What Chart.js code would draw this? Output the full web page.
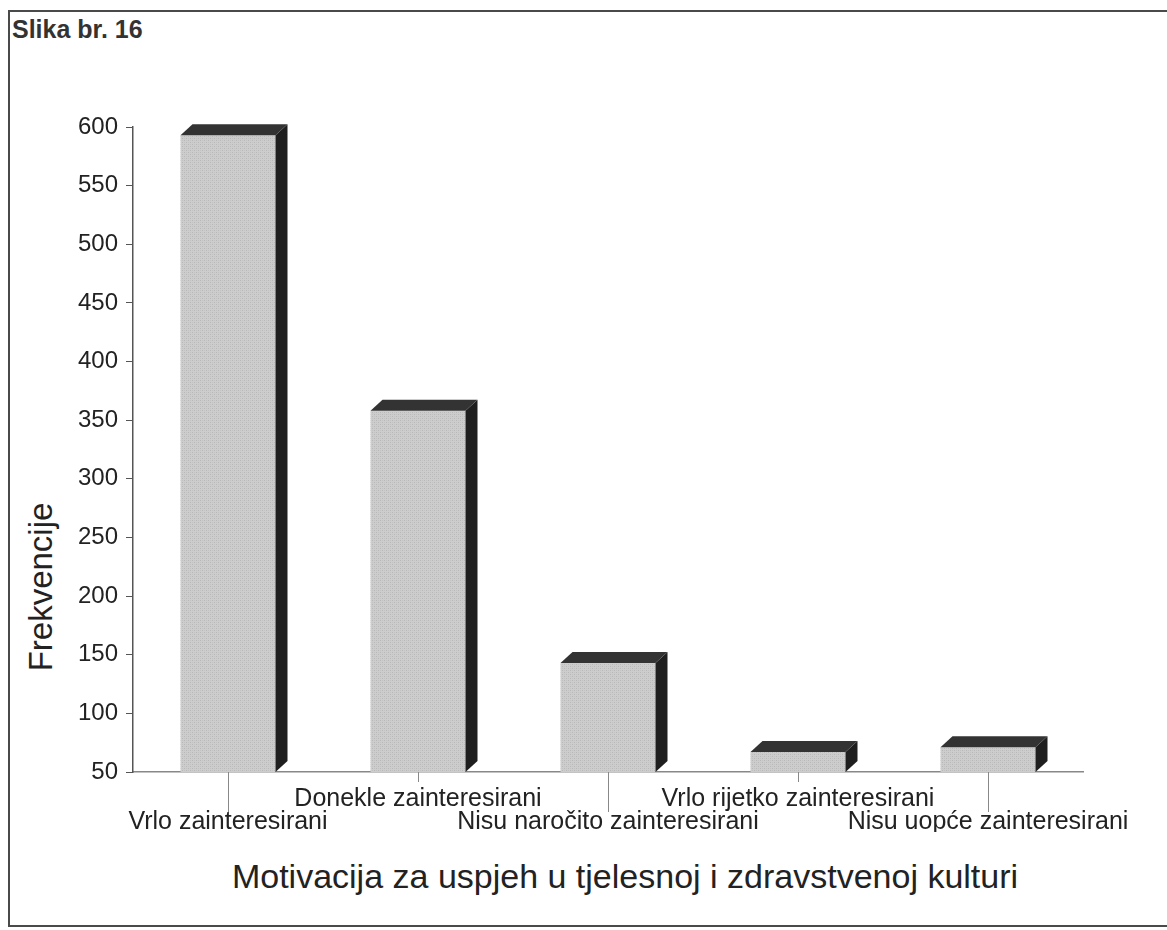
<!DOCTYPE html>
<html>
<head>
<meta charset="utf-8">
<script src="https://cdn.jsdelivr.net/npm/chart.js@4.4.0/dist/chart.umd.min.js"></script>
<style>
  body { margin: 0; background: #fff; }
  #wrap { position: relative; width: 1167px; height: 930px; overflow: hidden; font-family: "Liberation Sans", Arial, sans-serif; }
  #frame { position: absolute; left: 8px; top: 10px; width: 1170px; height: 917px; border: 2px solid #4a4a4a; box-sizing: border-box; }
  #fig { position: absolute; left: 12px; top: 15px; font-size: 25px; font-weight: bold; color: #333; }
  #ytitle { position: absolute; left: 41px; top: 587px; transform: translate(-50%, -50%) rotate(-90deg); font-size: 33px; color: #222; white-space: nowrap; }
  #xtitle { position: absolute; left: 625px; top: 876px; transform: translate(-50%, -50%); font-size: 34px; color: #222; white-space: nowrap; }
  canvas { position: absolute; left: 0; top: 0; }
</style>
</head>
<body>
<div id="wrap">
  <div id="frame"></div>
  <div id="fig">Slika br. 16</div>
  <div id="ytitle">Frekvencije</div>
  <div id="xtitle">Motivacija za uspjeh u tjelesnoj i zdravstvenoj kulturi</div>
  <canvas id="motivChart" width="1167" height="930"></canvas>
</div>
<script>
// categories and values
const categories = [
    'Vrlo zainteresirani',
    'Donekle zainteresirani',
    'Nisu naročito zainteresirani',
    'Vrlo rijetko zainteresirani',
    'Nisu uopće zainteresirani'
];
const frekvencije = [593, 358, 143, 67, 71];
const yMin = 50;
const yMax = 600;
const yStep = 50;

// staggered labels: even ones go on the second line
const staggered = categories.map((c, i) => i % 2 === 0 ? ['', c] : [c, '']);

// halftone-ish fill for the front of the bars
const pat = document.createElement('canvas');
pat.width = 4; pat.height = 4;
const pctx = pat.getContext('2d');
pctx.fillStyle = '#cdcdcd';
pctx.fillRect(0, 0, 4, 4);
pctx.fillStyle = '#b8b8b8';
pctx.fillRect(0, 0, 1, 1);
pctx.fillRect(2, 2, 1, 1);
pctx.fillStyle = '#c2c2c2';
pctx.fillRect(2, 0, 1, 1);
pctx.fillRect(0, 2, 1, 1);

const depthX = 12;
const depthY = 11;

// top and side of each bar, plus the category tick marks
const bars3d = {
    id: 'bars3d',
    afterDatasetsDraw(chart) {
        const ctx = chart.ctx;
        const meta = chart.getDatasetMeta(0);
        const floor = chart.chartArea.bottom;
        meta.data.forEach(bar => {
            const p = bar.getProps(['x', 'y', 'width'], true);
            const base = floor;
            const l = p.x - p.width / 2;
            const r = p.x + p.width / 2;
            ctx.save();
            // side
            ctx.fillStyle = '#1f1f1f';
            ctx.beginPath();
            ctx.moveTo(r, p.y);
            ctx.lineTo(r + depthX, p.y - depthY);
            ctx.lineTo(r + depthX, base - depthY);
            ctx.lineTo(r, base);
            ctx.closePath();
            ctx.fill();
            // top
            ctx.fillStyle = '#333333';
            ctx.beginPath();
            ctx.moveTo(l, p.y);
            ctx.lineTo(l + depthX, p.y - depthY);
            ctx.lineTo(r + depthX, p.y - depthY);
            ctx.lineTo(r, p.y);
            ctx.closePath();
            ctx.fill();
            ctx.restore();
        });
    },
    afterDraw(chart) {
        const ctx = chart.ctx;
        const xs = chart.scales.x;
        const bottom = chart.chartArea.bottom;
        ctx.save();
        ctx.strokeStyle = '#888';
        ctx.lineWidth = 1;
        categories.forEach((c, i) => {
            const px = Math.round(xs.getPixelForValue(i)) + 0.5;
            const len = i % 2 === 0 ? 40 : 10;
            ctx.beginPath();
            ctx.moveTo(px, bottom);
            ctx.lineTo(px, bottom + len);
            ctx.stroke();
        });
        ctx.restore();
    }
};

const canvasRef = document.getElementById('motivChart').getContext('2d');

new Chart(canvasRef, {
    type: 'bar',
    data: {
        labels: staggered,
        datasets: [{
            label: 'Frekvencije',
            data: frekvencije,
            backgroundColor: canvasRef.createPattern(pat, 'repeat'),
            borderWidth: 0,
            barPercentage: 0.5,
            categoryPercentage: 1.0
        }]
    },
    options: {
        responsive: false,
        animation: false,
        devicePixelRatio: 1,
        layout: {
            padding: { left: 0, right: 84, top: 127, bottom: 98 }
        },
        plugins: {
            legend: { display: false },
            tooltip: { enabled: false }
        },
        scales: {
            x: {
                grid: { display: false, drawTicks: false },
                border: { display: true, color: '#888', width: 1.5 },
                ticks: {
                    autoSkip: false,
                    maxRotation: 0,
                    minRotation: 0,
                    padding: 16,
                    color: '#222',
                    font: { family: '"Liberation Sans", Arial, sans-serif', size: 25, lineHeight: 0.9 }
                },
                afterFit(scale) { scale.height = 60; }
            },
            y: {
                min: yMin,
                max: yMax,
                grid: { drawOnChartArea: false, tickLength: 7, color: '#555' },
                border: { display: true, color: '#555', width: 1.5 },
                ticks: {
                    stepSize: yStep,
                    padding: 8,
                    color: '#222',
                    font: { family: '"Liberation Sans", Arial, sans-serif', size: 24 }
                },
                afterFit(scale) { scale.width = 133; }
            }
        }
    },
    plugins: [bars3d]
});
</script>
</body>
</html>
